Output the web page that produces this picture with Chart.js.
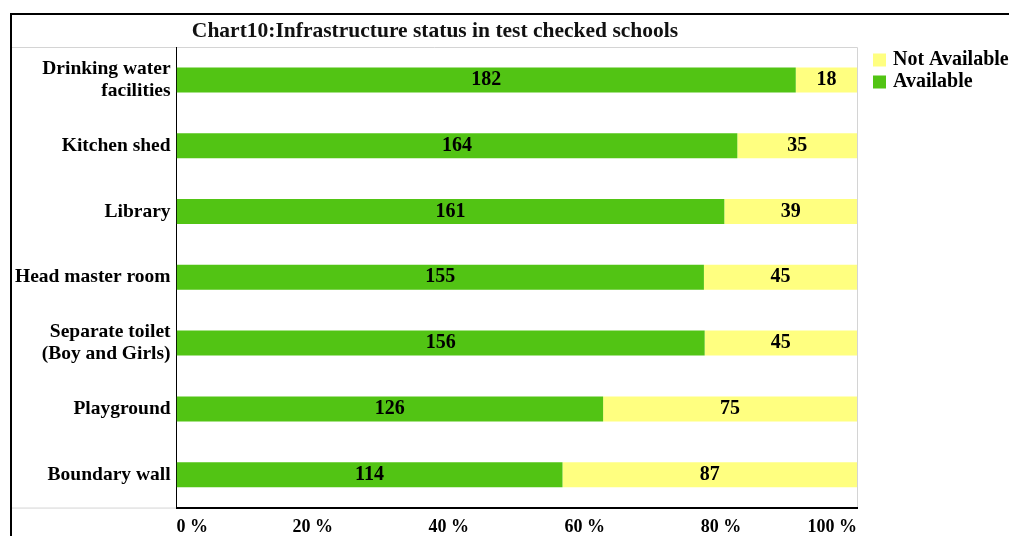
<!DOCTYPE html>
<html>
<head>
<meta charset="utf-8">
<title>Infrastructure status in test checked schools</title>
<script src="https://cdn.jsdelivr.net/npm/chart.js@4.4.1/dist/chart.umd.min.js"></script>
<style>
  html, body { margin: 0; padding: 0; background: #fff; }
  #wrap { width: 1009px; height: 536px; position: relative; }
</style>
</head>
<body>
<div id="wrap"><canvas id="infra"></canvas></div>
<script>
const facilities = [
  ['Drinking water', 'facilities'],
  'Kitchen shed',
  'Library',
  'Head master room',
  ['Separate toilet', '(Boy and Girls)'],
  'Playground',
  'Boundary wall'
];
const available = [182, 164, 161, 155, 156, 126, 114];
const notAvailable = [18, 35, 39, 45, 45, 75, 87];
const xTicks = [0, 20, 40, 60, 80, 100];

const chartTitle = 'Chart10:Infrastructure status in test checked schools';
const serif = "'Liberation Serif', 'Times New Roman', serif";

// bars are drawn as share of each row's total, labels keep the counts
const totals = available.map((v, i) => v + notAvailable[i]);
const share = arr => arr.map((v, i) => v / totals[i] * 100);

// outer frame, plot box, title row and the legend on the right
const framePlugin = {
  id: 'frame',
  beforeDraw(chart) {
    const { ctx, chartArea: a, width, height } = chart;
    ctx.save();
    ctx.strokeStyle = '#d4d4d4';
    ctx.lineWidth = 1;
    ctx.beginPath();
    ctx.moveTo(11, a.top + 0.5);
    ctx.lineTo(a.right + 0.5, a.top + 0.5);
    ctx.lineTo(a.right + 0.5, a.bottom);
    ctx.moveTo(11, a.bottom + 0.5);
    ctx.lineTo(a.left, a.bottom + 0.5);
    ctx.stroke();

    ctx.strokeStyle = '#000';
    ctx.lineWidth = 2;
    ctx.beginPath();
    ctx.moveTo(10, 14);
    ctx.lineTo(width, 14);
    ctx.moveTo(11, 14);
    ctx.lineTo(11, height);
    ctx.stroke();

    ctx.fillStyle = '#111';
    ctx.font = 'bold 21.5px ' + serif;
    ctx.textAlign = 'center';
    ctx.textBaseline = 'middle';
    ctx.fillText(chartTitle, 435, 31);

    // legend, last series first
    ctx.font = 'bold 20px ' + serif;
    ctx.textAlign = 'left';
    const sets = chart.data.datasets.slice().reverse();
    sets.forEach((ds, i) => {
      const y = a.top + 13 + i * 22;
      ctx.fillStyle = ds.backgroundColor;
      ctx.fillRect(a.right + 16, y - 6.5, 13, 13);
      ctx.fillStyle = '#000';
      ctx.fillText(ds.label, a.right + 36, y);
    });
    ctx.restore();
  }
};

// count labels centred on each segment
const countLabels = {
  id: 'countLabels',
  afterDatasetsDraw(chart) {
    const { ctx } = chart;
    const counts = [available, notAvailable];
    ctx.save();
    ctx.font = 'bold 20px ' + serif;
    ctx.fillStyle = '#000';
    ctx.textAlign = 'center';
    ctx.textBaseline = 'middle';
    chart.data.datasets.forEach((ds, di) => {
      chart.getDatasetMeta(di).data.forEach((bar, i) => {
        const x = (bar.x + bar.base) / 2;
        ctx.fillText(String(counts[di][i]), x, bar.y);
      });
    });
    ctx.restore();
  }
};

new Chart(document.getElementById('infra'), {
  type: 'bar',
  data: {
    labels: facilities,
    datasets: [
      {
        label: 'Available',
        data: share(available),
        backgroundColor: '#52c414',
        barPercentage: 0.38,
        categoryPercentage: 1
      },
      {
        label: 'Not Available',
        data: share(notAvailable),
        backgroundColor: '#ffff80',
        barPercentage: 0.38,
        categoryPercentage: 1
      }
    ]
  },
  options: {
    indexAxis: 'y',
    responsive: true,
    maintainAspectRatio: false,
    animation: false,
    layout: { padding: { top: 47, left: 9, right: 152, bottom: 0 } },
    scales: {
      x: {
        stacked: true,
        min: 0,
        max: 100,
        afterBuildTicks: axis => { axis.ticks = xTicks.map(v => ({ value: v })); },
        afterFit: axis => { axis.height = 27; },
        grid: { display: false, drawTicks: false },
        border: { display: true, color: '#000', width: 2 },
        ticks: {
          padding: 9,
          align: 'inner',
          color: '#000',
          font: { family: serif, size: 18, weight: 'bold' },
          callback: v => v + ' %'
        }
      },
      y: {
        stacked: true,
        grid: { display: false, drawTicks: false },
        border: { display: true, color: '#000', width: 1 },
        ticks: {
          padding: 6,
          color: '#000',
          font: { family: serif, size: 19.5, weight: 'bold', lineHeight: 1.15 }
        }
      }
    },
    plugins: {
      title: { display: false },
      tooltip: { enabled: false },
      legend: { display: false }
    }
  },
  plugins: [framePlugin, countLabels]
});
</script>
</body>
</html>
